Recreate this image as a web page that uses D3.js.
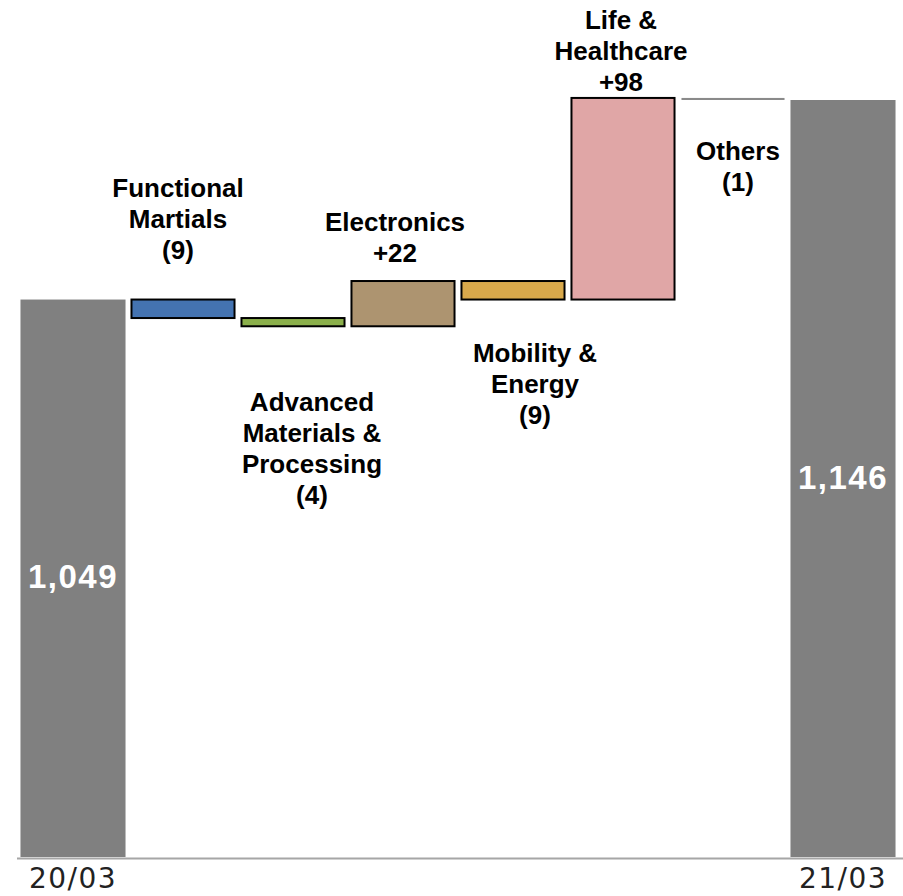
<!DOCTYPE html>
<html>
<head>
<meta charset="utf-8">
<script src="https://cdn.jsdelivr.net/npm/d3@7"></script>
<style>
  html, body { margin: 0; padding: 0; background: #ffffff; }
  svg { display: block; }
</style>
</head>
<body>
<svg id="chart" width="903" height="896"></svg>
<script>
// ---- data ----
const periods = ["20/03", "21/03"];
const totals = [1049, 1146];
const segments = ["Functional Martials", "Advanced Materials & Processing", "Electronics",
                  "Mobility & Energy", "Life & Healthcare", "Others"];
const changes = [-9, -4, 22, -9, 98, -1];
const segmentLines = [
  ["Functional", "Martials"],
  ["Advanced", "Materials &", "Processing"],
  ["Electronics"],
  ["Mobility &", "Energy"],
  ["Life &", "Healthcare"],
  ["Others"]
];
const segmentColors = ["#4473b1", "#8bb04b", "#ad9470", "#d9a94b", "#e0a6a6", "#8a8a8a"];

// ---- layout ----
const W = 903, H = 896;
const baseY = 857;
const svg = d3.select("#chart");

const keys = ["start", ...segments, "end"];
const x = d3.scaleBand().domain(keys).range([18, 898]).paddingInner(0.045).paddingOuter(0.0225);
const y = d3.scaleLinear().domain([778, 1146]).range([baseY, 100]);

// running cumulative levels for the floating bars
let level = totals[0];
const steps = segments.map((s, i) => {
  const from = level;
  level += changes[i];
  return { key: s, from, to: level, change: changes[i], lines: segmentLines[i], color: segmentColors[i] };
});

const fmt = d3.format(",");
const fmtChange = v => v > 0 ? "+" + v : "(" + Math.abs(v) + ")";

// total bars
const totalBars = [{ key: "start", v: totals[0], label: periods[0] }, { key: "end", v: totals[1], label: periods[1] }];
svg.selectAll("rect.total").data(totalBars).join("rect")
  .attr("class", "total")
  .attr("x", d => x(d.key))
  .attr("width", x.bandwidth())
  .attr("y", d => y(d.v))
  .attr("height", d => baseY - y(d.v))
  .attr("fill", "#808080");

svg.selectAll("text.totalVal").data(totalBars).join("text")
  .attr("class", "totalVal")
  .attr("x", d => x(d.key) + x.bandwidth() / 2)
  .attr("y", d => (y(d.v) + baseY) / 2 + 10)
  .attr("text-anchor", "middle")
  .attr("font-family", "Liberation Sans, Arial, sans-serif")
  .attr("font-weight", "bold")
  .attr("font-size", 33)
  .attr("letter-spacing", 1.5)
  .attr("fill", "#ffffff")
  .text(d => fmt(d.v));

// floating change bars
svg.selectAll("rect.step").data(steps).join("rect")
  .attr("class", "step")
  .attr("x", d => x(d.key) + 1)
  .attr("width", x.bandwidth() - 2)
  .attr("y", d => y(Math.max(d.from, d.to)))
  .attr("height", d => Math.abs(y(d.from) - y(d.to)))
  .attr("fill", d => d.color)
  .attr("stroke", d => d.key === "Others" ? "none" : "#000000")
  .attr("stroke-width", 2);

// segment labels: placement relative to each bar (dx from band centre, dy of first baseline from bar edge)
const place = {
  "Functional Martials": { side: "above", dx: -5, gap: 41 },
  "Advanced Materials & Processing": { side: "below", dx: 19, gap: 85 },
  "Electronics": { side: "above", dx: -8, gap: 19 },
  "Mobility & Energy": { side: "below", dx: 22, gap: 62 },
  "Life & Healthcare": { side: "above", dx: -2, gap: 7 },
  "Others": { side: "below", dx: 5, gap: 60 }
};
const lineH = 31;

const labels = svg.selectAll("text.seg").data(steps).join("text")
  .attr("class", "seg")
  .attr("text-anchor", "middle")
  .attr("font-family", "Liberation Sans, Arial, sans-serif")
  .attr("font-weight", "bold")
  .attr("font-size", 26)
  .attr("fill", "#000000");

labels.each(function(d) {
  const p = place[d.key];
  const allLines = [...d.lines, fmtChange(d.change)];
  const cx = x(d.key) + x.bandwidth() / 2 + p.dx;
  const top = y(Math.max(d.from, d.to));
  const bottom = y(Math.min(d.from, d.to));
  const firstBase = p.side === "above"
    ? top - p.gap - (allLines.length - 1) * lineH
    : bottom + p.gap;
  d3.select(this).selectAll("tspan").data(allLines).join("tspan")
    .attr("x", cx)
    .attr("y", (t, i) => firstBase + i * lineH)
    .text(t => t);
});

// baseline axis
svg.append("line")
  .attr("x1", 17).attr("x2", W)
  .attr("y1", baseY + 1.5).attr("y2", baseY + 1.5)
  .attr("stroke", "#a6a6a6")
  .attr("stroke-width", 2);

svg.selectAll("text.period").data(totalBars).join("text")
  .attr("class", "period")
  .attr("x", d => x(d.key) + x.bandwidth() / 2)
  .attr("y", 888)
  .attr("text-anchor", "middle")
  .attr("font-family", "DejaVu Sans, sans-serif")
  .attr("font-size", 28)
  .attr("letter-spacing", 1.5)
  .attr("fill", "#222222")
  .text(d => d.label);
</script>
</body>
</html>
